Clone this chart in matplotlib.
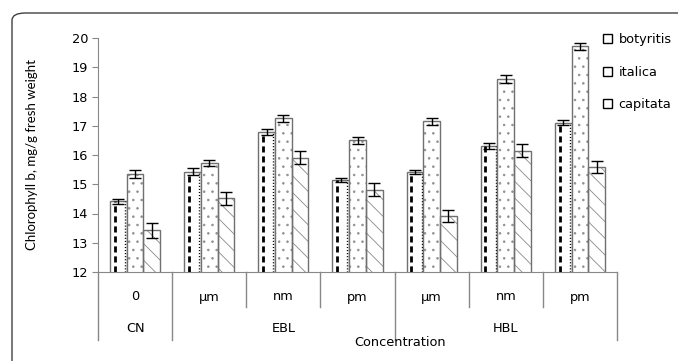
import numpy as np
import matplotlib
matplotlib.use("Agg")
import matplotlib.pyplot as plt
from matplotlib.patches import FancyBboxPatch, Patch

# texto horizontal mas ancho (el original esta estirado en horizontal)
plt.rcParams['font.family'] = ['DejaVu Sans']
plt.rcParams['hatch.linewidth'] = 0.6
fs = 9.3

# datos
categorias = ['0', 'µm', 'nm', 'pm', 'µm', 'nm', 'pm']
grupos = ['CN', 'EBL', 'HBL']
grupo_tamano = [1, 3, 3]
series = ['botyritis', 'italica', 'capitata']
botyritis = [14.42, 15.42, 16.78, 15.15, 15.42, 16.32, 17.10]
italica = [15.35, 15.72, 17.25, 16.50, 17.15, 18.60, 19.72]
capitata = [13.42, 14.52, 15.90, 14.82, 13.92, 16.15, 15.58]
err_botyritis = [0.08, 0.12, 0.10, 0.07, 0.08, 0.10, 0.08]
err_italica = [0.15, 0.10, 0.12, 0.12, 0.12, 0.15, 0.12]
err_capitata = [0.25, 0.22, 0.22, 0.22, 0.20, 0.22, 0.20]

W, H = 678, 361
fig = plt.figure(figsize=(W / 100, H / 100), dpi=100)
ax = fig.add_axes([98 / W, 1 - 272 / H, (617 - 98) / W, (272 - 38) / H])

# marco redondeado del area del grafico
marco = FancyBboxPatch((12 / W, -0.1), 1.2, 1 - 13 / H + 0.1,
                       boxstyle="round,pad=0,rounding_size=0.02",
                       transform=fig.transFigure, fill=False,
                       edgecolor='#404040', linewidth=1.0, zorder=0)
fig.patches.append(marco)

x = np.arange(len(categorias))
w = 0.225
borde = '#707070'
ekw = dict(ecolor='black', elinewidth=1.0, capsize=4.3, capthick=1.0)

# botyritis: linea discontinua vertical
xb = x - w
ax.bar(xb, botyritis, w, color='white', edgecolor=borde, lw=1.0, zorder=2)
ax.vlines(xb - 0.22 * w, 12, botyritis, colors='black',
          linestyles=(0, (2.2, 1.4)), lw=2.0, zorder=3)
ax.vlines(xb + 0.40 * w, 12, botyritis, colors='black',
          linestyles=(0, (0.8, 1.4)), lw=1.0, zorder=3)
ax.errorbar(xb, botyritis, yerr=err_botyritis, fmt='none', zorder=5, **ekw)

# italica: puntos
ax.bar(x, italica, w, color='white', edgecolor='#909090', hatch='..', lw=0, zorder=2)
ax.bar(x, italica, w, fill=False, edgecolor=borde, lw=1.0, zorder=3)
ax.errorbar(x, italica, yerr=err_italica, fmt='none', zorder=5, **ekw)

# capitata: diagonal
ax.bar(x + w, capitata, w, color='white', edgecolor='#8a8a8a', hatch='\\\\', lw=0, zorder=2)
ax.bar(x + w, capitata, w, fill=False, edgecolor=borde, lw=1.0, zorder=3)
ax.errorbar(x + w, capitata, yerr=err_capitata, fmt='none', zorder=5, **ekw)

ax.set_ylim(12, 20)
ax.set_xlim(-0.5, len(categorias) - 0.5)
ax.set_yticks(range(12, 21))
ax.tick_params(axis='y', labelsize=fs, length=4, color='#888888', pad=3)
ax.set_xticks([])
for s in ['top', 'right']:
    ax.spines[s].set_visible(False)
for s in ['left', 'bottom']:
    ax.spines[s].set_color('#888888')
ax.set_ylabel('Chlorophyll b, mg/g fresh weight', fontsize=9.5, family=['Lato'])
ax.yaxis.set_label_coords((38 - 98) / 519, 0.5)

# eje x de dos niveles
px = 1 / 234
for i, c in enumerate(categorias):
    ax.text(i, -25 * px, c, transform=ax.get_xaxis_transform(),
            ha='center', va='center', fontsize=fs)
inicio = 0
bordes_grupo = [-0.5]
for g, n in zip(grupos, grupo_tamano):
    ax.text(inicio + (n - 1) / 2, -57 * px, g, transform=ax.get_xaxis_transform(),
            ha='center', va='center', fontsize=fs)
    inicio += n
    bordes_grupo.append(inicio - 0.5)
for b in np.arange(-0.5, len(categorias), 1.0):
    bajo = -68 * px if b in bordes_grupo else -35 * px
    ax.plot([b, b], [0, bajo], transform=ax.get_xaxis_transform(),
            color='#888888', lw=1.0, clip_on=False)

fig.text(400 / W, 1 - 343 / H, 'Concentration', ha='center', va='center', fontsize=fs)

manijas = [Patch(facecolor='white', edgecolor='black', lw=1.0),
           Patch(facecolor='white', edgecolor='black', lw=1.0),
           Patch(facecolor='white', edgecolor='black', lw=1.0)]
fig.legend(manijas, series, loc='upper left', bbox_to_anchor=(598 / W, 1 - 28 / H),
           frameon=False, fontsize=fs, handlelength=0.7, handleheight=0.7,
           handletextpad=0.5, labelspacing=1.5, borderaxespad=0)

fig.savefig('out.png', dpi=100)
